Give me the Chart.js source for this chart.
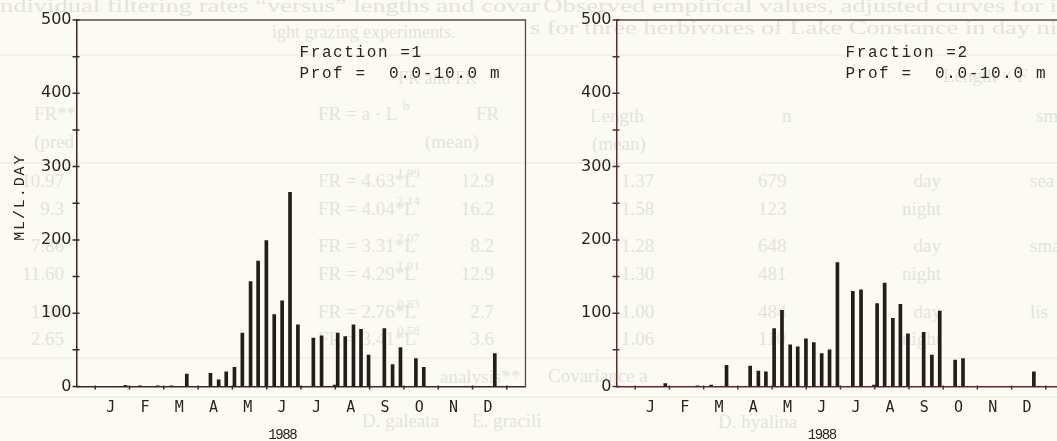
<!DOCTYPE html>
<html>
<head>
<meta charset="utf-8">
<script src="https://cdn.jsdelivr.net/npm/chart.js@4/dist/chart.umd.min.js"></script>
<style>
html, body { margin: 0; padding: 0; background: #fbfbf4; overflow: hidden; width: 1057px; height: 441px; }
#ghost { position: absolute; left: 0; top: 0; }
.box { position: absolute; top: 0; height: 441px; }
#leftBox { left: 0; width: 540px; }
#rightBox { left: 530px; width: 545px; }
</style>
</head>
<body>
<svg id="ghost" width="1057" height="441"></svg>
<div class="box" id="leftBox"><canvas id="chartLeft"></canvas></div>
<div class="box" id="rightBox"><canvas id="chartRight"></canvas></div>
<script>
// sampling dates, in months from 1 Jan 1988 (weekly during the season)
const months = ["J", "F", "M", "A", "M", "J", "J", "A", "S", "O", "N", "D"];
const sampleMonths = [0.88, 1.31, 1.82, 2.22, 2.67, 3.36, 3.60, 3.82, 4.06, 4.29,
	4.53, 4.75, 4.99, 5.22, 5.45, 5.68, 5.91, 6.36, 6.60, 6.98,
	7.07, 7.29, 7.53, 7.75, 7.97, 8.43, 8.67, 8.90, 9.35, 9.58, 11.65];
// ML/L.DAY
const fraction1 = [1.5, 1, 1, 1, 17, 18, 9, 20, 26, 73,
	143, 171, 199, 98, 117, 265, 84, 66, 69, 2,
	73, 68, 84, 78, 43, 79, 30, 53, 38, 26, 45];
const fraction2 = [4, 0, 1, 2, 29, 28, 21, 20, 79, 104,
	57, 54, 65, 60, 45, 50, 169, 130, 132, 2,
	113, 141, 93, 112, 72, 74, 43, 103, 36, 38, 20];
const yearLabel = "1988";
const depthLabel = "Prof =  0.0-10.0 m";

const ink = "#2a2422";

// faint text showing through the scanned page
const ghostText = [
	["ndividual filtering rates \u201cversus\u201d lengths and covar", 0, 12, 540],
	["ight grazing experiments.", 272, 38, 0, 18],
	["FR and FR", 398, 84, 0, 18],
	["FR**", 34, 120], ["FR = a \u00b7 L", 318, 120], ["b", 403, 110, 0, 13], ["FR", 476, 120],
	["(pred", 34, 148], ["(mean)", 425, 148],
	["analysis**", 440, 383], ["D. galeata", 362, 427], ["E. gracili", 472, 427],
	[". Observed empirical values, adjusted curves for i", 530, 12, 527],
	["s for three herbivores of Lake Constance in day ni", 530, 34, 527],
	["Length \u00d7 F", 943, 82],
	["Length", 590, 122], ["n", 782, 122], ["sm", 1036, 122],
	["(mean)", 592, 150],
	["Covariance a", 548, 382], ["D. hyalina", 718, 428],
];
const ghostRows = [187, 215, 252, 280, 318, 345];
const ghostCols = [
	{ x: 64, anchor: "end", cells: ["10.97", "9.3", "7.86", "11.60", "1.90", "2.65"] },
	{ x: 318, cells: ["FR = 4.63*L", "FR = 4.04*L", "FR = 3.31*L", "FR = 4.29*L", "FR = 2.76*L", "FR = 3.41*L"] },
	{ x: 397, dy: -10, size: 13, cells: ["1.99", "2.14", "2.07", "1.91", "0.83", "0.58"] },
	{ x: 494, anchor: "end", cells: ["12.9", "16.2", "8.2", "12.9", "2.7", "3.6"] },
	{ x: 621, cells: ["1.37", "1.58", "1.28", "1.30", "1.00", "1.06"] },
	{ x: 758, cells: ["679", "123", "648", "481", "484", "110"] },
	{ x: 941, anchor: "end", cells: ["day", "night", "day", "night", "day", "night"] },
	{ x: 1030, cells: ["sea", "", "sma", "", "lis", ""] },
];
const ghostRules = [55, 163, 358, 397];

const svg = document.getElementById("ghost");
const NS = "http://www.w3.org/2000/svg";
function ghost(txt, x, y, w, size, anchor) {
	if (!txt) return;
	const t = document.createElementNS(NS, "text");
	t.setAttribute("x", x);
	t.setAttribute("y", y);
	t.setAttribute("fill", "#e4e3db");
	t.setAttribute("font-family", "Liberation Serif");
	t.setAttribute("font-size", size || 19);
	if (anchor) t.setAttribute("text-anchor", anchor);
	if (w) {
		t.setAttribute("textLength", w);
		t.setAttribute("lengthAdjust", "spacingAndGlyphs");
	}
	t.textContent = txt;
	svg.appendChild(t);
}
ghostRules.forEach((ry) => {
	const l = document.createElementNS(NS, "line");
	l.setAttribute("x1", 0); l.setAttribute("x2", 1057);
	l.setAttribute("y1", ry); l.setAttribute("y2", ry);
	l.setAttribute("stroke", "#eae9e1");
	svg.appendChild(l);
});
ghostText.forEach((g) => ghost(g[0], g[1], g[2], g[3], g[4]));
ghostCols.forEach((c) => c.cells.forEach((txt, i) => ghost(txt, c.x, ghostRows[i] + (c.dy || 0), 0, c.size, c.anchor)));

// plotter lettering: fixed advance per character
function spaced(ctx, txt, x, y, adv) {
	for (let i = 0; i < txt.length; i++) ctx.fillText(txt[i], x + i * adv, y);
}

const decor = {
	id: "decor",
	afterDraw(chart, args, o) {
		const { ctx, chartArea: a } = chart;
		const x = chart.scales.x;
		const y = chart.scales.y;
		ctx.save();
		// frame: top and right side
		ctx.strokeStyle = o.frameColor;
		ctx.lineWidth = 1.3;
		ctx.beginPath();
		ctx.moveTo(a.left, a.top);
		ctx.lineTo(a.right, a.top);
		ctx.lineTo(a.right, a.bottom);
		ctx.stroke();
		// tick marks crossing the axes
		ctx.strokeStyle = o.axisColor;
		ctx.lineWidth = 1.5;
		ctx.beginPath();
		y.ticks.forEach((t) => {
			const py = y.getPixelForValue(t.value);
			ctx.moveTo(a.left - 4, py);
			ctx.lineTo(a.left + 3, py);
		});
		for (let k = 0; k <= 12; k++) {
			const px = x.getPixelForValue(k);
			ctx.moveTo(px, a.bottom - 1);
			ctx.lineTo(px, a.bottom + 3);
		}
		ctx.stroke();
		// annotation
		ctx.fillStyle = ink;
		ctx.textAlign = "left";
		ctx.textBaseline = "alphabetic";
		ctx.font = '16px "Liberation Mono"';
		spaced(ctx, o.fraction, a.left + o.textDx, 57, 11.2);
		spaced(ctx, depthLabel, a.left + o.textDx, 78, 11.2);
		// year under the month letters
		ctx.font = '14px "Liberation Mono"';
		spaced(ctx, yearLabel, x.getPixelForValue(5.45) - 14, 439, 7);
		if (o.yTitle) {
			ctx.font = '15px "Liberation Mono"';
			ctx.translate(24, (a.top + a.bottom) / 2 - 6);
			ctx.rotate(-Math.PI / 2);
			spaced(ctx, o.yTitle, -o.yTitle.length * 10.9 / 2, 0, 10.9);
		}
		ctx.restore();
	},
};

function makeChart(id, values, o) {
	const ctx = document.getElementById(id).getContext("2d");
	return new Chart(ctx, {
		type: "bar",
		data: {
			datasets: [{
				data: sampleMonths.map((m, i) => ({ x: m, y: values[i] })),
				backgroundColor: "#231c1a",
				barThickness: 3,
			}],
		},
		plugins: [decor],
		options: {
			responsive: true,
			maintainAspectRatio: false,
			animation: false,
			layout: { padding: { top: 20, right: o.rightPad, bottom: 0, left: 0 } },
			plugins: {
				legend: { display: false },
				tooltip: { enabled: false },
				decor: o,
			},
			scales: {
				x: {
					type: "linear",
					min: 0,
					max: 12,
					afterBuildTicks: (s) => { s.ticks = months.map((m, i) => ({ value: i + 0.45 })); },
					afterFit: (s) => { s.height = 54.5; },
					ticks: {
						autoSkip: false,
						maxRotation: 0,
						padding: 13,
						color: ink,
						font: { family: "DejaVu Sans Mono", size: 15 },
						callback: (v, i) => months[i],
					},
					grid: { display: false, drawTicks: false },
					border: { color: o.axisColor, width: 1.5 },
				},
				y: {
					min: 0,
					max: 500,
					afterFit: (s) => { s.width = o.axisLeft; },
					ticks: {
						stepSize: 50,
						autoSkip: false,
						padding: 5,
						color: ink,
						font: { family: "DejaVu Sans", size: 16 },
						callback: (v) => (v % 100 === 0 ? v : ""),
					},
					grid: { display: false, drawTicks: false },
					border: { color: o.axisColor, width: 1.5 },
				},
			},
		},
	});
}

makeChart("chartLeft", fraction1, {
	fraction: "Fraction =1",
	yTitle: "ML/L.DAY",
	textDx: 223,
	axisLeft: 76.5,
	rightPad: 14.5,
	axisColor: "#3a2824",
	frameColor: "#5a4a46",
});
makeChart("chartRight", fraction2, {
	fraction: "Fraction =2",
	yTitle: "",
	textDx: 229,
	axisLeft: 86.5,
	rightPad: 10.5,
	axisColor: "#5c2c2a",
	frameColor: "#5a4a46",
});
</script>
</body>
</html>
